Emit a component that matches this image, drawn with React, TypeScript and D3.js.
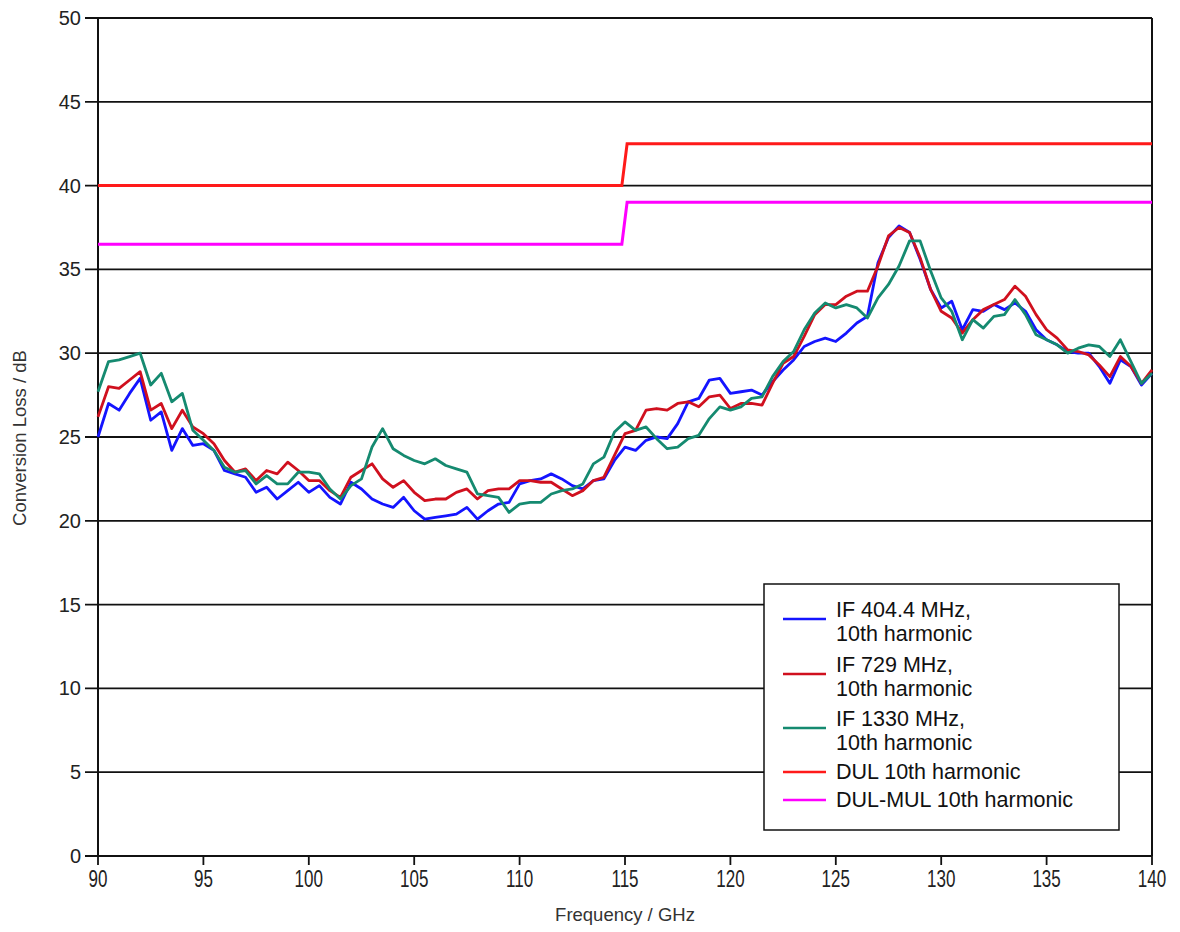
import React from "react";
import * as d3 from "d3";

// Frequency grid (GHz), 0.5 GHz steps from 90 to 140
const freqs: number[] = [
  90, 90.5, 91, 91.5, 92, 92.5, 93, 93.5, 94, 94.5,
  95, 95.5, 96, 96.5, 97, 97.5, 98, 98.5, 99, 99.5,
  100, 100.5, 101, 101.5, 102, 102.5, 103, 103.5, 104, 104.5,
  105, 105.5, 106, 106.5, 107, 107.5, 108, 108.5, 109, 109.5,
  110, 110.5, 111, 111.5, 112, 112.5, 113, 113.5, 114, 114.5,
  115, 115.5, 116, 116.5, 117, 117.5, 118, 118.5, 119, 119.5,
  120, 120.5, 121, 121.5, 122, 122.5, 123, 123.5, 124, 124.5,
  125, 125.5, 126, 126.5, 127, 127.5, 128, 128.5, 129, 129.5,
  130, 130.5, 131, 131.5, 132, 132.5, 133, 133.5, 134, 134.5,
  135, 135.5, 136, 136.5, 137, 137.5, 138, 138.5, 139, 139.5,
  140,
];

const if404: number[] = [
  25.0, 27.0, 26.6, 27.6, 28.5, 26.0, 26.5, 24.2, 25.5, 24.5,
  24.6, 24.2, 23.0, 22.8, 22.6, 21.7, 22.0, 21.3, 21.8, 22.3,
  21.7, 22.1, 21.4, 21.0, 22.3, 21.9, 21.3, 21.0, 20.8, 21.4,
  20.6, 20.1, 20.2, 20.3, 20.4, 20.8, 20.1, 20.6, 21.0, 21.1,
  22.2, 22.4, 22.5, 22.8, 22.5, 22.1, 21.9, 22.4, 22.5, 23.6,
  24.4, 24.2, 24.8, 25.0, 24.9, 25.8, 27.1, 27.3, 28.4, 28.5,
  27.6, 27.7, 27.8, 27.5, 28.3, 29.0, 29.6, 30.4, 30.7, 30.9,
  30.7, 31.2, 31.8, 32.2, 35.4, 36.9, 37.6, 37.2, 35.6, 33.8,
  32.7, 33.1, 31.4, 32.6, 32.5, 32.9, 32.6, 33.0, 32.5, 31.4,
  30.8, 30.5, 30.1, 30.0, 30.0, 29.2, 28.2, 29.6, 29.2, 28.1,
  28.8,
];

const if729: number[] = [
  26.2, 28.0, 27.9, 28.4, 28.9, 26.6, 27.0, 25.5, 26.6, 25.6,
  25.2, 24.6, 23.6, 22.9, 23.1, 22.4, 23.0, 22.8, 23.5, 23.0,
  22.4, 22.4, 21.8, 21.4, 22.6, 23.0, 23.4, 22.5, 22.0, 22.4,
  21.7, 21.2, 21.3, 21.3, 21.7, 21.9, 21.3, 21.8, 21.9, 21.9,
  22.4, 22.4, 22.3, 22.3, 21.9, 21.5, 21.8, 22.4, 22.6, 23.9,
  25.2, 25.4, 26.6, 26.7, 26.6, 27.0, 27.1, 26.8, 27.4, 27.5,
  26.7, 27.0, 27.0, 26.9, 28.2, 29.4, 29.8, 31.0, 32.3, 32.9,
  32.9, 33.4, 33.7, 33.7, 35.2, 37.0, 37.5, 37.2, 35.7, 33.8,
  32.5, 32.1, 31.2, 32.0, 32.6, 32.9, 33.2, 34.0, 33.4, 32.3,
  31.4, 30.9, 30.2, 30.1, 29.9, 29.3, 28.6, 29.8, 29.2, 28.2,
  29.0,
];

const if1330: number[] = [
  27.7, 29.5, 29.6, 29.8, 30.0, 28.1, 28.8, 27.1, 27.6, 25.4,
  24.8, 24.2, 23.2, 22.9, 23.0, 22.2, 22.7, 22.2, 22.2, 22.9,
  22.9, 22.8, 21.9, 21.3, 22.1, 22.5, 24.4, 25.5, 24.3, 23.9,
  23.6, 23.4, 23.7, 23.3, 23.1, 22.9, 21.6, 21.5, 21.4, 20.5,
  21.0, 21.1, 21.1, 21.6, 21.8, 21.9, 22.2, 23.4, 23.8, 25.3,
  25.9, 25.4, 25.6, 24.9, 24.3, 24.4, 24.9, 25.1, 26.1, 26.8,
  26.6, 26.8, 27.3, 27.4, 28.6, 29.5, 30.1, 31.4, 32.4, 33.0,
  32.7, 32.9, 32.7, 32.1, 33.3, 34.1, 35.2, 36.7, 36.7, 34.9,
  33.3, 32.5, 30.8, 32.0, 31.5, 32.2, 32.3, 33.2, 32.3, 31.1,
  30.8, 30.5, 30.0, 30.3, 30.5, 30.4, 29.8, 30.8, 29.5, 28.2,
  28.8,
];

// Specification limit lines
const limitFreq: number[] = [90, 114.85, 115.1, 140];
const dulLoss: number[] = [40, 40, 42.5, 42.5];
const dulMulLoss: number[] = [36.5, 36.5, 39, 39];

const xTicks: number[] = [90, 95, 100, 105, 110, 115, 120, 125, 130, 135, 140];
const yTicks: number[] = [0, 5, 10, 15, 20, 25, 30, 35, 40, 45, 50];

const seriesNames: string[][] = [
  ["IF 404.4 MHz,", "10th harmonic"],
  ["IF 729 MHz,", "10th harmonic"],
  ["IF 1330 MHz,", "10th harmonic"],
  ["DUL 10th harmonic"],
  ["DUL-MUL 10th harmonic"],
];
const seriesColors: string[] = ["#1414ff", "#d0101e", "#158a70", "#ff1a1a", "#ff00ff"];

const W = 1180;
const H = 932;
const M = { left: 98, right: 1152, top: 18, bottom: 856 };
const FONT = "'Liberation Sans', Arial, sans-serif";

export default function App() {
  const x = d3.scaleLinear().domain([90, 140]).range([M.left, M.right]);
  const y = d3.scaleLinear().domain([0, 50]).range([M.bottom, M.top]);

  const line = d3
    .line<[number, number]>()
    .x((d) => x(d[0]))
    .y((d) => y(d[1]));

  const dataSeries = [if404, if729, if1330].map((vals) =>
    line(freqs.map((f, i) => [f, vals[i]] as [number, number]))
  );
  const limitSeries = [dulLoss, dulMulLoss].map((vals) =>
    line(limitFreq.map((f, i) => [f, vals[i]] as [number, number]))
  );

  // Legend layout
  const lg = { x: 764, y: 584, w: 355, h: 246 };
  const entryY = [
    { line: 619, text: [610, 634] },
    { line: 674, text: [665, 689] },
    { line: 728, text: [719, 743] },
    { line: 772, text: [772] },
    { line: 800, text: [800] },
  ];

  return (
    <svg
      width={W}
      height={H}
      style={{ position: "absolute", left: 0, top: 0, background: "#fff" }}
      fontFamily={FONT}
    >
      {/* grid lines */}
      {yTicks.map((t) => (
        <line
          key={"g" + t}
          x1={M.left - 13}
          x2={M.right}
          y1={y(t)}
          y2={y(t)}
          stroke="#111"
          strokeWidth={1.8}
        />
      ))}
      {/* y tick labels */}
      {yTicks.map((t) => (
        <text
          key={"yl" + t}
          x={M.left - 17}
          y={y(t)}
          textAnchor="end"
          dominantBaseline="central"
          fontSize={20}
          fill="#222"
        >
          {t}
        </text>
      ))}
      {/* x ticks */}
      {xTicks.map((t) => (
        <g key={"xt" + t}>
          <line x1={x(t)} x2={x(t)} y1={M.bottom} y2={M.bottom + 9} stroke="#111" strokeWidth={1.8} />
          <text
            x={x(t)}
            y={M.bottom + 31}
            textAnchor="middle"
            fontSize={20}
            fill="#222"
            transform={`translate(${x(t)},${M.bottom + 31}) scale(0.85,1.15) translate(${-x(t)},${-(M.bottom + 31)})`}
          >
            {t}
          </text>
        </g>
      ))}
      {/* axes */}
      <line x1={M.left} x2={M.left} y1={M.top} y2={M.bottom} stroke="#111" strokeWidth={2} />
      <line x1={M.right} x2={M.right} y1={M.top} y2={M.bottom} stroke="#111" strokeWidth={2} />
      <line x1={M.left} x2={M.right} y1={M.bottom} y2={M.bottom} stroke="#111" strokeWidth={2} />

      {/* limit lines */}
      {limitSeries.map((d, i) => (
        <path key={"lim" + i} d={d || ""} fill="none" stroke={seriesColors[3 + i]} strokeWidth={3} />
      ))}
      {/* measured series */}
      {dataSeries.map((d, i) => (
        <path
          key={"s" + i}
          d={d || ""}
          fill="none"
          stroke={seriesColors[i]}
          strokeWidth={2.8}
          strokeLinejoin="round"
        />
      ))}

      {/* axis titles */}
      <text x={(M.left + M.right) / 2} y={921} textAnchor="middle" fontSize={18.5} fill="#333">
        Frequency / GHz
      </text>
      <text
        transform={`translate(26,438) rotate(-90)`}
        textAnchor="middle"
        fontSize={18.5}
        fill="#333"
      >
        Conversion Loss / dB
      </text>

      {/* legend */}
      <rect x={lg.x} y={lg.y} width={lg.w} height={lg.h} fill="#fff" stroke="#111" strokeWidth={1.5} />
      {seriesNames.map((names, i) => (
        <g key={"lg" + i}>
          <line
            x1={783}
            x2={826}
            y1={entryY[i].line}
            y2={entryY[i].line}
            stroke={seriesColors[i]}
            strokeWidth={2.5}
          />
          {names.map((n, j) => (
            <text
              key={j}
              x={836}
              y={entryY[i].text[j]}
              dominantBaseline="central"
              fontSize={21.5}
              fill="#111"
            >
              {n}
            </text>
          ))}
        </g>
      ))}
    </svg>
  );
}
